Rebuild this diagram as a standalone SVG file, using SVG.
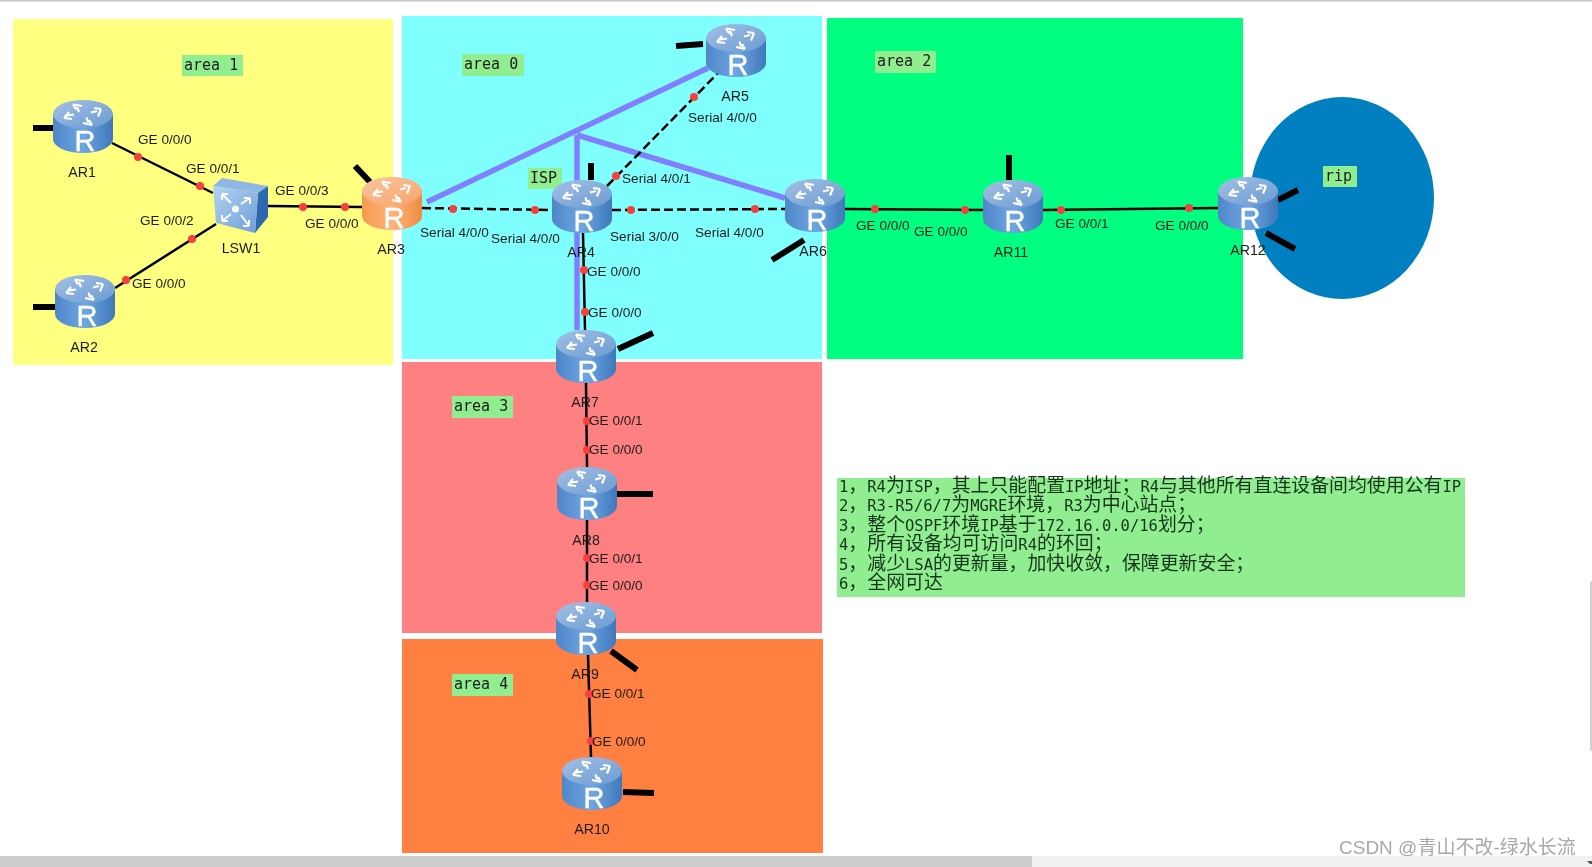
<svg xmlns="http://www.w3.org/2000/svg" xmlns:xlink="http://www.w3.org/1999/xlink" width="1592" height="867" viewBox="0 0 1592 867">
<style>
text{font-family:"Liberation Sans",Arial,sans-serif;fill:#1c1c1c}
.l{font-size:13.6px}
.n{font-size:14.2px;text-anchor:middle}
.r{font-size:29px;fill:#fff;text-anchor:middle;stroke:#fff;stroke-width:.4}
.tag{fill:#90ee90}
.m{font-family:"DejaVu Sans Mono","Liberation Mono",monospace;font-size:15px}
.t{font-family:"DejaVu Sans Mono","Liberation Mono",monospace;font-size:15.5px;fill:#15351a}
.c{font-family:"Noto Sans CJK SC",sans-serif;font-size:18.9px}
.s{stroke:#000;stroke-width:6;fill:none}
.k{stroke:#000;stroke-width:2.5;fill:none}
.d{stroke:#000;stroke-width:2.5;fill:none;stroke-dasharray:9 4}
.p{stroke:#8080ff;stroke-width:5.5;fill:none}
.o{fill:#f5403a}
.wm{font-family:"Liberation Sans","Noto Sans CJK SC",sans-serif;font-size:19px;fill:#a8a8a8}
</style>
<defs>
<filter id="soft" x="0" y="0" width="100%" height="100%"><feGaussianBlur stdDeviation="0.45"/></filter>
<linearGradient id="bb" x1="0" x2="1" y1="0" y2="0"><stop offset="0" stop-color="#4f86c8"/><stop offset=".5" stop-color="#6ea6e2"/><stop offset="1" stop-color="#3f78bb"/></linearGradient>
<linearGradient id="bt" x1="0" x2="1" y1="0" y2="1"><stop offset="0" stop-color="#a4c0e4"/><stop offset="1" stop-color="#6a9bd2"/></linearGradient>
<linearGradient id="ob" x1="0" x2="1" y1="0" y2="0"><stop offset="0" stop-color="#f59a52"/><stop offset=".5" stop-color="#ffb27a"/><stop offset="1" stop-color="#ee8c40"/></linearGradient>
<linearGradient id="ot" x1="0" x2="1" y1="0" y2="1"><stop offset="0" stop-color="#fbc6a0"/><stop offset="1" stop-color="#f6a46a"/></linearGradient>
<linearGradient id="sw" x1="0" x2="1" y1="0" y2="1"><stop offset="0" stop-color="#b4d3f2"/><stop offset="1" stop-color="#6c9fd8"/></linearGradient>
<g id="arrows" fill="none" stroke="#fff" stroke-width="2.2">
<path d="M20 4.5l9 1.5M20 4.5l3 5M24 7l2 5"/>
<path d="M48 9l-3 7.500M48 9l-7-1M44 11l-6 1.500"/>
<path d="M39 25l-9-2M39 25l-3-5M35 22.500l-1.500-5"/>
<path d="M11 18l5-6M11 18l8 1M14 15.500l7-1"/>
</g>
<g id="rt"><path d="M0 14V39A30 14 0 0 0 60 39V14Z" fill="url(#bb)"/><ellipse cx="30" cy="14" rx="30" ry="14" fill="url(#bt)"/><use href="#arrows" xlink:href="#arrows"/></g>
<g id="ro"><path d="M0 14V39A30 14 0 0 0 60 39V14Z" fill="url(#ob)"/><ellipse cx="30" cy="14" rx="30" ry="14" fill="url(#ot)"/><use href="#arrows" xlink:href="#arrows"/></g>
</defs>
<rect width="1592" height="867" fill="#fff"/>
<g filter="url(#soft)">
<g id="areas">
<rect x="13" y="19" width="380" height="346" fill="#ffff80"/>
<rect x="402" y="16" width="420" height="343" fill="#80ffff"/>
<rect x="827" y="18" width="416" height="341" fill="#00ff80"/>
<rect x="402" y="362" width="420" height="271" fill="#ff8080"/>
<rect x="402" y="639" width="421" height="214" fill="#ff8040"/>
<ellipse cx="1342" cy="198" rx="92" ry="101" fill="#0080c0"/>
</g>
<g id="tags">
<rect class="tag" x="182" y="55" width="61" height="21"/><text class="m" x="184" y="70">area 1</text>
<rect class="tag" x="462" y="54" width="62" height="22"/><text class="m" x="464" y="69">area 0</text>
<rect class="tag" x="875" y="51" width="61" height="22"/><text class="m" x="877" y="66">area 2</text>
<rect class="tag" x="528" y="168" width="34" height="21"/><text class="m" x="530" y="183">ISP</text>
<rect class="tag" x="452" y="396" width="61" height="22"/><text class="m" x="454" y="411">area 3</text>
<rect class="tag" x="452" y="674" width="61" height="22"/><text class="m" x="454" y="689">area 4</text>
<rect class="tag" x="1323" y="166" width="34" height="21"/><text class="m" x="1325" y="181">rip</text>
</g>
<g id="connectors">
<path class="p" d="M427 202L708 68M577 135V330M577 135L785 198"/>
<path class="k" d="M112 143L213 193M115 288L216 224M268 206L362 207M583 233L585 330M586 383L587 467M587 520L587 602M588 655L591 757M845 209L983 210M1043 210L1218 208"/>
<path class="d" d="M422 208L552 210M612 210L785 209M607 186L718 73"/>
<g id="stubs">
<path class="s" d="M33 128H53M33 307H55M355 166L370 182M591 163V180M676 46L703 44M772 260L804 240M618 349L653 333M617 494H653M611 651L637 670M623 792L654 793M1009 155V180M1278 200L1298 190M1266 233L1295 249"/>
</g>
<g id="ports">
<circle class="o" cx="138" cy="157" r="4"/><circle class="o" cx="200" cy="186" r="4"/>
<circle class="o" cx="126" cy="280" r="4"/><circle class="o" cx="192" cy="239" r="4"/>
<circle class="o" cx="303" cy="207" r="4"/><circle class="o" cx="345" cy="207" r="4"/>
<circle class="o" cx="453" cy="209" r="4"/><circle class="o" cx="535" cy="210" r="4"/>
<circle class="o" cx="631" cy="210" r="4"/><circle class="o" cx="755" cy="209" r="4"/>
<circle class="o" cx="616" cy="176" r="4"/><circle class="o" cx="694" cy="97" r="4"/>
<circle class="o" cx="584" cy="270" r="4"/><circle class="o" cx="585" cy="312" r="4"/>
<circle class="o" cx="587" cy="421" r="4"/><circle class="o" cx="587" cy="450" r="4"/>
<circle class="o" cx="587" cy="558" r="4"/><circle class="o" cx="587" cy="585" r="4"/>
<circle class="o" cx="589" cy="694" r="4"/><circle class="o" cx="591" cy="741" r="4"/>
<circle class="o" cx="875" cy="209" r="4"/><circle class="o" cx="965" cy="210" r="4"/>
<circle class="o" cx="1061" cy="210" r="4"/><circle class="o" cx="1189" cy="208" r="4"/>
</g>
</g>
<g id="AR1"><use href="#rt" xlink:href="#rt" x="53" y="100"/><text class="r" x="85" y="151">R</text><text class="n" x="82" y="177">AR1</text></g>
<g id="AR2"><use href="#rt" xlink:href="#rt" x="55" y="275"/><text class="r" x="87" y="326">R</text><text class="n" x="84" y="352">AR2</text></g>
<g id="AR3"><use href="#ro" xlink:href="#ro" x="362" y="177"/><text class="r" x="394" y="228">R</text><text class="n" x="391" y="254">AR3</text></g>
<g id="AR4"><use href="#rt" xlink:href="#rt" x="552" y="180"/><text class="r" x="584" y="231">R</text><text class="n" x="581" y="257">AR4</text></g>
<g id="AR5"><use href="#rt" xlink:href="#rt" x="706" y="24"/><text class="r" x="738" y="75">R</text><text class="n" x="735" y="101">AR5</text></g>
<g id="AR6"><use href="#rt" xlink:href="#rt" x="785" y="179"/><text class="r" x="817" y="230">R</text><text class="n" x="813" y="256">AR6</text></g>
<g id="AR7"><use href="#rt" xlink:href="#rt" x="556" y="330"/><text class="r" x="588" y="381">R</text><text class="n" x="585" y="407">AR7</text></g>
<g id="AR8"><use href="#rt" xlink:href="#rt" x="557" y="467"/><text class="r" x="589" y="518">R</text><text class="n" x="586" y="545">AR8</text></g>
<g id="AR9"><use href="#rt" xlink:href="#rt" x="556" y="602"/><text class="r" x="588" y="653">R</text><text class="n" x="585" y="679">AR9</text></g>
<g id="AR10"><use href="#rt" xlink:href="#rt" x="562" y="757"/><text class="r" x="594" y="808">R</text><text class="n" x="592" y="834">AR10</text></g>
<g id="AR11"><use href="#rt" xlink:href="#rt" x="983" y="180"/><text class="r" x="1015" y="231">R</text><text class="n" x="1011" y="257">AR11</text></g>
<g id="AR12"><use href="#rt" xlink:href="#rt" x="1218" y="177"/><text class="r" x="1250" y="228">R</text><text class="n" x="1248" y="255">AR12</text></g>
<g id="LSW1">
<path d="M213 186L222 178L268 186L258 193Z" fill="#8fb8e4"/>
<path d="M258 193L268 186V217L255 233Z" fill="#2d69b0"/>
<path d="M213 186L258 193L255 233L216 223Z" fill="url(#sw)"/>
<circle cx="235.500" cy="209" r="3.500" fill="#fff"/>
<path d="M222 194L231 203M222 194h6M222 194v6M250 198L241 204M250 198h-6M250 198v6M222 221L231 214M222 221v-6M222 221h6M249 226L241 215M249 226v-6M249 226h-6" fill="none" stroke="#fff" stroke-width="2"/>
<text class="n" x="241" y="253">LSW1</text>
</g>
<g id="labels">
<text class="l" x="138" y="144">GE 0/0/0</text>
<text class="l" x="186" y="173">GE 0/0/1</text>
<text class="l" x="140" y="225">GE 0/0/2</text>
<text class="l" x="132" y="288">GE 0/0/0</text>
<text class="l" x="275" y="195">GE 0/0/3</text>
<text class="l" x="305" y="228">GE 0/0/0</text>
<text class="l" x="420" y="237">Serial 4/0/0</text>
<text class="l" x="491" y="243">Serial 4/0/0</text>
<text class="l" x="610" y="241">Serial 3/0/0</text>
<text class="l" x="695" y="237">Serial 4/0/0</text>
<text class="l" x="622" y="183">Serial 4/0/1</text>
<text class="l" x="688" y="122">Serial 4/0/0</text>
<text class="l" x="587" y="276">GE 0/0/0</text>
<text class="l" x="588" y="317">GE 0/0/0</text>
<text class="l" x="589" y="425">GE 0/0/1</text>
<text class="l" x="589" y="454">GE 0/0/0</text>
<text class="l" x="589" y="563">GE 0/0/1</text>
<text class="l" x="589" y="590">GE 0/0/0</text>
<text class="l" x="591" y="698">GE 0/0/1</text>
<text class="l" x="592" y="746">GE 0/0/0</text>
<text class="l" x="856" y="230">GE 0/0/0</text>
<text class="l" x="914" y="236">GE 0/0/0</text>
<text class="l" x="1055" y="228">GE 0/0/1</text>
<text class="l" x="1155" y="230">GE 0/0/0</text>
</g>
<g id="notes">
<rect x="837" y="478" width="628" height="119" fill="#90ee90"/>
<text class="t" x="839" y="492">1<tspan class="c">，</tspan>R4<tspan class="c">为</tspan>ISP<tspan class="c">，其上只能配置</tspan>IP<tspan class="c">地址；</tspan>R4<tspan class="c">与其他所有直连设备间均使用公有</tspan>IP</text>
<text class="t" x="839" y="511">2<tspan class="c">，</tspan>R3-R5/6/7<tspan class="c">为</tspan>MGRE<tspan class="c">环境，</tspan>R3<tspan class="c">为中心站点；</tspan></text>
<text class="t" x="839" y="531">3<tspan class="c">，整个</tspan>OSPF<tspan class="c">环境</tspan>IP<tspan class="c">基于</tspan>172.16.0.0/16<tspan class="c">划分；</tspan></text>
<text class="t" x="839" y="550">4<tspan class="c">，所有设备均可访问</tspan>R4<tspan class="c">的环回；</tspan></text>
<text class="t" x="839" y="570">5<tspan class="c">，减少</tspan>LSA<tspan class="c">的更新量，加快收敛，保障更新安全；</tspan></text>
<text class="t" x="839" y="589">6<tspan class="c">，全网可达</tspan></text>
</g>
<g id="chrome">
<rect x="0" y="0" width="1592" height="1.500" fill="#c8c8c8"/>
<rect x="0" y="856" width="1592" height="11" fill="#f0f0f0"/>
<rect x="0" y="856" width="1032" height="11" fill="#cdcdcd"/>
<rect x="1590" y="581" width="3" height="170" rx="1.500" fill="#d0d0d0"/>
<path d="M1587 861h5v3h-2z" fill="#555"/>
</g>
<text class="wm" x="1339" y="854">CSDN @青山不改-绿水长流</text>
</g>
</svg>
